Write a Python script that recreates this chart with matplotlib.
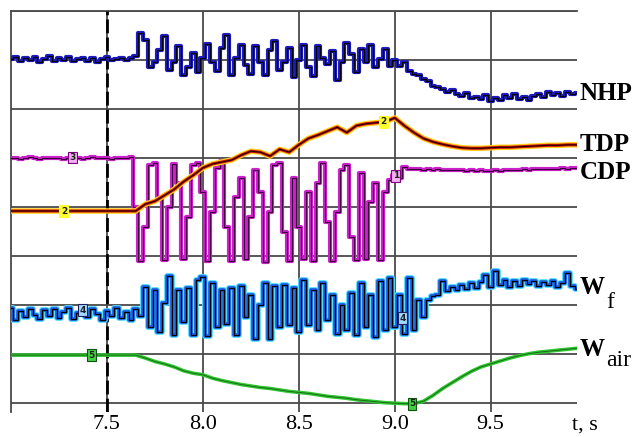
import matplotlib
matplotlib.use("Agg")
import matplotlib.pyplot as plt
import numpy as np

# sampled traces, values in grid units (one unit = one horizontal grid step)
T0 = 7.0
DT_FAST = 0.025
DT_SLOW = 0.05

nhp = [7.02, 7.06, 6.98, 7.04, 7.00, 7.06, 6.96, 7.03, 7.08, 6.98,
       7.04, 7.00, 7.06, 6.97, 7.03, 7.05, 6.99, 7.04, 6.96, 7.02,
       7.06, 7.00, 7.03, 7.05, 7.01, 7.04, 7.08,
       7.55, 7.40, 6.85,
       6.95, 7.20, 7.48, 6.80, 6.95, 7.28, 6.70, 6.85, 7.15, 6.75,
       7.05, 7.32, 6.95, 6.78, 7.25, 7.52, 6.70, 7.05, 7.30, 6.90,
       6.72, 7.28, 6.95, 6.70, 7.20, 7.38, 6.80, 6.95, 7.25, 6.65,
       7.00, 7.30, 6.85, 6.68, 7.28, 7.05, 6.92, 7.18, 6.60, 6.95,
       7.35, 7.12, 6.75, 7.22, 6.95, 7.30, 6.85, 7.02, 7.22, 6.88,
       7.00, 6.88, 6.95, 6.78, 6.72, 6.70, 6.62, 6.58, 6.48, 6.45,
       6.40, 6.35, 6.38, 6.30, 6.26, 6.32, 6.22, 6.25, 6.20, 6.28,
       6.16, 6.22, 6.18, 6.28, 6.22, 6.30, 6.20, 6.24, 6.18, 6.26,
       6.30, 6.24, 6.34, 6.28, 6.32, 6.26, 6.34, 6.30, 6.33]

cdp = [5.00, 5.01, 4.99, 5.00, 5.02, 5.00, 4.99, 5.01, 5.00, 5.00,
       5.01, 4.99, 5.00, 5.01, 5.00, 4.99, 5.00, 5.02, 5.00, 5.01,
       5.00, 4.99, 5.00, 5.01, 5.00, 5.02,
       4.00, 2.90, 3.60, 4.85,
       4.90, 4.20, 2.92, 4.00, 4.88, 4.50, 2.95, 3.80, 4.85, 4.90,
       4.30, 2.90, 3.90, 4.80, 4.95, 3.60, 2.90, 4.20, 4.60, 2.95,
       3.80, 4.75, 4.30, 2.88, 3.90, 4.85, 4.90, 3.50, 2.90, 4.60,
       3.60, 2.95, 4.30, 2.90, 4.50, 4.90, 3.70, 2.90, 3.90, 4.75,
       4.85, 3.40, 2.92, 4.70, 2.95, 4.10, 4.50, 2.92, 4.30, 4.55,
       4.65, 4.60, 4.82, 4.78, 4.77, 4.78, 4.76, 4.77, 4.76, 4.77,
       4.76, 4.75, 4.76, 4.75, 4.76, 4.74, 4.75, 4.74, 4.75, 4.74,
       4.74, 4.75, 4.74, 4.75, 4.76, 4.75, 4.76, 4.77, 4.76, 4.77,
       4.77, 4.78, 4.77, 4.78, 4.78, 4.79, 4.78, 4.79, 4.79]

wf = [1.95, 1.70, 1.88, 1.75, 1.92, 1.80, 1.72, 1.90, 1.78, 1.93,
      1.74, 1.86, 1.95, 1.72, 1.84, 1.90, 1.76, 1.93, 1.82, 1.70,
      1.88, 1.78, 1.95, 1.74, 1.85, 1.70, 1.92, 1.78,
      2.37, 1.55,
      2.30, 1.45, 2.05, 2.60, 1.40, 2.30, 1.65, 2.35, 1.40, 2.52,
      2.57, 1.38, 2.45, 1.55, 2.30, 1.62, 2.35, 1.40, 2.40, 1.75,
      2.20, 1.30, 2.00, 2.45, 1.30, 2.40, 1.55, 2.42, 1.60, 2.35,
      1.45, 2.52, 1.60, 2.30, 1.50, 2.45, 1.70, 2.20, 1.42, 2.00,
      1.50, 2.25, 1.40, 2.45, 1.55, 2.20, 1.35, 2.50, 1.50, 2.55,
      1.55, 2.20, 1.42, 2.55, 1.50, 2.10, 1.75, 2.10, 2.18, 2.20,
      2.50, 2.28, 2.38, 2.30, 2.42, 2.32, 2.45, 2.35, 2.48, 2.62,
      2.38, 2.70, 2.42, 2.52, 2.38, 2.50, 2.40, 2.52, 2.44, 2.50,
      2.40, 2.48, 2.42, 2.50, 2.38, 2.46, 2.65, 2.40, 2.32]

tdp = [3.92, 3.92, 3.92, 3.92, 3.92, 3.92, 3.92, 3.92, 3.92, 3.92,
       3.92, 3.92, 3.92, 3.92, 4.06, 4.12, 4.24, 4.36, 4.52, 4.65,
       4.80, 4.88, 4.92, 4.96, 5.06, 5.14, 5.12, 5.04, 5.18, 5.12,
       5.27, 5.40, 5.47, 5.55, 5.63, 5.52, 5.66, 5.70, 5.72, 5.74,
       5.82, 5.66, 5.52, 5.40, 5.33, 5.28, 5.24, 5.21, 5.20, 5.20,
       5.21, 5.22, 5.22, 5.23, 5.24, 5.25, 5.26, 5.26, 5.27, 5.27]

wair = [0.98, 0.98, 0.98, 0.98, 0.98, 0.98, 0.98, 0.98, 0.98, 0.98,
        0.98, 0.98, 0.98, 0.98, 0.92, 0.85, 0.80, 0.74, 0.66, 0.61,
        0.58, 0.51, 0.46, 0.42, 0.38, 0.35, 0.32, 0.30, 0.27, 0.24,
        0.22, 0.20, 0.17, 0.14, 0.12, 0.10, 0.07, 0.05, 0.03, 0.01,
        0.00, -0.01, -0.01, 0.04, 0.16, 0.30, 0.42, 0.54, 0.65, 0.74,
        0.80, 0.86, 0.92, 0.97, 1.01, 1.04, 1.06, 1.08, 1.10, 1.12]

xticks = [7.5, 8.0, 8.5, 9.0, 9.5]
xtick_labels = ["7.5", "8.0", "8.5", "9.0", "9.5"]
t_event = 7.5

# numbered tags along the traces: (label, series, time)
tags = [("3", "cdp", 7.323), ("2", "tdp", 7.276), ("2", "tdp", 8.94),
        ("1", "cdp", 9.005), ("4", "wf", 7.375), ("4", "wf", 9.04),
        ("5", "wair", 7.42), ("5", "wair", 9.09)]

SERIF = ["Liberation Serif", "DejaVu Serif"]


def times(vals, dt):
    return T0 + dt * np.arange(len(vals))


fig = plt.figure(figsize=(6.33, 4.37), dpi=100)
ax = fig.add_axes([11 / 633, 25 / 437, 566 / 633, 401 / 437])
ax.set_xlim(7.0, 9.95)
ax.set_ylim(-0.18, 8.0)

series = {
    "nhp": (times(nhp, DT_FAST), np.array(nhp)),
    "cdp": (times(cdp, DT_FAST), np.array(cdp)),
    "wf": (times(wf, DT_FAST), np.array(wf)),
    "tdp": (times(tdp, DT_SLOW), np.array(tdp)),
    "wair": (times(wair, DT_SLOW), np.array(wair)),
}

gc = "#4a4a4a"
ax.set_xticks(xticks)
ax.set_xticklabels(xtick_labels, fontfamily=SERIF, fontsize=16)
ax.set_yticks(np.arange(0, 9))
ax.set_yticklabels([])
ax.tick_params(length=0, pad=2)
ax.grid(True, color=gc, lw=1.3)
for s in ["right", "bottom"]:
    ax.spines[s].set_visible(False)
for s in ["left", "top"]:
    ax.spines[s].set_color(gc)
    ax.spines[s].set_linewidth(1.3)

ax.axvline(t_event, color="black", lw=2, ls=(0, (5, 1.5)), zorder=3)

t, v = series["nhp"]
ax.plot(t, v, drawstyle="steps-mid", color="#1c1cc0", lw=3.0, zorder=4)
ax.plot(t, v, drawstyle="steps-mid", color="black", lw=0.9, zorder=5)

t, v = series["cdp"]
ax.plot(t, v, drawstyle="steps-mid", color="#cc22cc", lw=3.0, zorder=4)
ax.plot(t, v, drawstyle="steps-mid", color="#3a003a", lw=0.8, zorder=5)

t, v = series["tdp"]
ax.plot(t, v, color="#ffd21a", lw=4.0, zorder=6)
ax.plot(t, v, color="#cc1010", lw=2.2, zorder=7)
ax.plot(t, v, color="#200000", lw=0.8, zorder=8)

t, v = series["wf"]
ax.plot(t, v, drawstyle="steps-mid", color="#55dcff", lw=4.2, zorder=4)
ax.plot(t, v, drawstyle="steps-mid", color="#1858d8", lw=2.6, zorder=5)
ax.plot(t, v, drawstyle="steps-mid", color="black", lw=0.8, zorder=6)

t, v = series["wair"]
ax.plot(t, v, color="#30c830", lw=2.6, zorder=4)
ax.plot(t, v, color="#1a6a1a", lw=0.7, zorder=5)

tag_style = {
    "cdp": dict(fc="#f0b0f0", ec="#800080"),
    "tdp": dict(fc="#ffff30", ec="#ffff30"),
    "wf": dict(fc="#a0d8ff", ec="#202060"),
    "wair": dict(fc="#40d040", ec="#105010"),
}
for lab, key, tt in tags:
    t, v = series[key]
    yy = np.interp(tt, t, v)
    st = tag_style[key]
    ax.text(tt, yy, lab, fontsize=6.5, ha="center", va="center", zorder=9,
            fontfamily="DejaVu Sans", fontweight="bold", color="#202020",
            bbox=dict(boxstyle="square,pad=0.15", fc=st["fc"], ec=st["ec"], lw=0.8))

# trace names on the right
xr = 9.965
for name, yy in [("NHP", 6.31), ("TDP", 5.27), ("CDP", 4.71)]:
    ax.text(xr, yy, name, fontfamily=SERIF, fontsize=18, fontweight="bold",
            ha="left", va="center", clip_on=False)
ax.text(xr, 2.35, "W", fontfamily=SERIF, fontsize=18, fontweight="bold",
        ha="left", va="center", clip_on=False)
ax.text(xr + 0.135, 2.05, "f", fontfamily=SERIF, fontsize=17,
        ha="left", va="center", clip_on=False)
ax.text(xr, 1.10, "W", fontfamily=SERIF, fontsize=18, fontweight="bold",
        ha="left", va="center", clip_on=False)
ax.text(xr + 0.135, 0.88, "air", fontfamily=SERIF, fontsize=17,
        ha="left", va="center", clip_on=False)

ax.text(9.925, -0.25, "t, s", fontfamily=SERIF, fontsize=16,
        ha="left", va="top", clip_on=False)

fig.savefig("out.png", dpi=100)
